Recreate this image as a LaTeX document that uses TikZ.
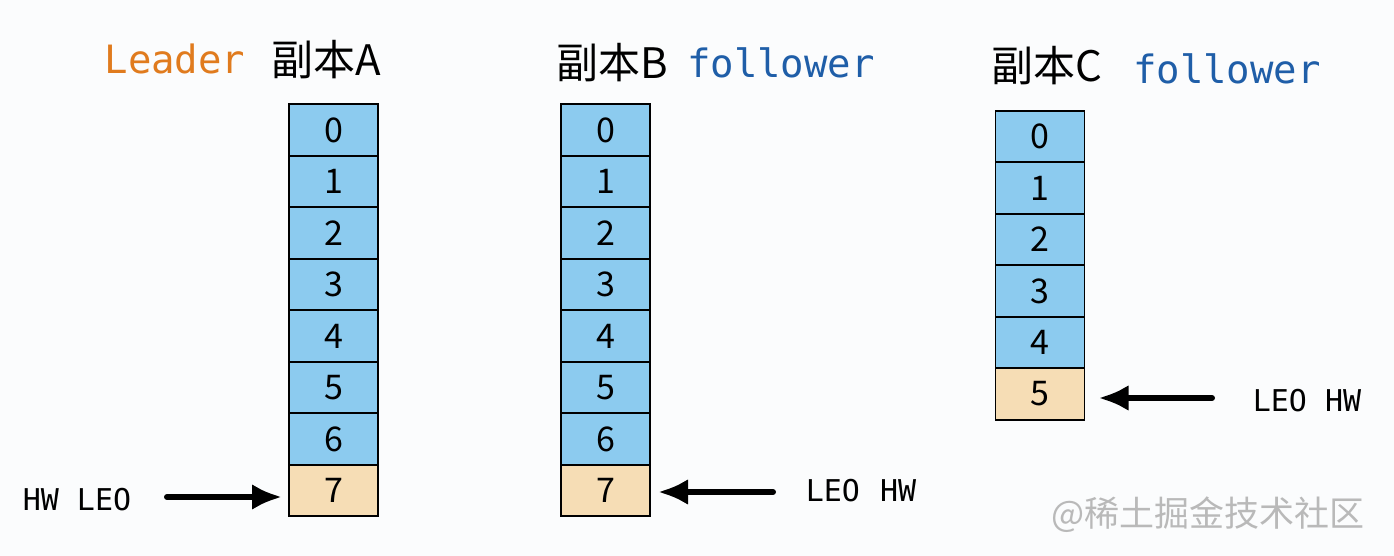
\documentclass[tikz,border=0pt]{standalone}
\usepackage{fontspec}
\setmainfont{Noto Sans CJK SC}
\newfontfamily\monofont{DejaVu Sans Mono}
\usetikzlibrary{positioning,arrows.meta}

\definecolor{cellblue}{HTML}{8CCBEF}
\definecolor{celltan}{HTML}{F6DDB5}
\definecolor{leaderorange}{HTML}{E07B1E}
\definecolor{followerblue}{HTML}{1F5EA8}
\definecolor{pagebg}{HTML}{FBFCFD}

\begin{document}
\begin{tikzpicture}
  [x=0.5pt,y=-0.5pt,
   every node/.style={inner sep=0pt,outer sep=0pt},
   cell/.style={draw=black,line width=0.8pt,fill=cellblue,
     minimum width=44.5pt,minimum height=25.75pt,
     font=\fontsize{17}{17}\selectfont},
   endcell/.style={cell,fill=celltan},
   title/.style={anchor=base,font=\fontsize{21}{21}\selectfont},
   role/.style={anchor=base,font=\monofont\fontsize{19.5}{19.5}\selectfont},
   tag/.style={font=\monofont\fontsize{15}{15}\selectfont},
   ptr/.style={-{Latex[length=15pt,width=13pt]},line width=3pt,line cap=round}]

  \fill[pagebg] (0,0) rectangle (1394,556);
  \useasboundingbox (0,0) rectangle (1394,556);

  % titles
  \node[role,text=leaderorange] (aRole) at (175,74) {Leader};
  \node[title] (aTitle) at (326,76) {副本A};
  \node[title] (bTitle) at (612,79) {副本B};
  \node[role,text=followerblue] (bRole) at (781,78) {follower};
  \node[title] (cTitle) at (1047,82) {副本C};
  \node[role,text=followerblue] (cRole) at (1227,84) {follower};

  % replica A
  \node[cell] (a0) at (333.5,130) {0};
  \node[cell] (a1) at (333.5,181.5) {1};
  \node[cell] (a2) at (333.5,233) {2};
  \node[cell] (a3) at (333.5,284.5) {3};
  \node[cell] (a4) at (333.5,336) {4};
  \node[cell] (a5) at (333.5,387.5) {5};
  \node[cell] (a6) at (333.5,439) {6};
  \node[endcell] (a7) at (333.5,490.5) {7};

  % replica B
  \node[cell] (b0) at (605.5,130) {0};
  \node[cell] (b1) at (605.5,181.5) {1};
  \node[cell] (b2) at (605.5,233) {2};
  \node[cell] (b3) at (605.5,284.5) {3};
  \node[cell] (b4) at (605.5,336) {4};
  \node[cell] (b5) at (605.5,387.5) {5};
  \node[cell] (b6) at (605.5,439) {6};
  \node[endcell] (b7) at (605.5,490.5) {7};

  % replica C
  \node[cell] (c0) at (1040,136.5) {0};
  \node[cell] (c1) at (1040,188) {1};
  \node[cell] (c2) at (1040,239.5) {2};
  \node[cell] (c3) at (1040,291) {3};
  \node[cell] (c4) at (1040,342.5) {4};
  \node[endcell] (c5) at (1040,394) {5};

  % offsets
  \node[tag] (aTag) at (77,500) {HW LEO};
  \node[tag] (bTag) at (861,491) {LEO\hspace{10pt}HW};
  \node[tag] (cTag) at (1307,401) {LEO HW};

  \coordinate (aTail) at (167,497);
  \coordinate (bTail) at (773,492);
  \coordinate (cTail) at (1212,398);

  \draw[ptr,shorten >=3.5pt] (aTail) -- (a7.west |- aTail);
  \draw[ptr,shorten >=4pt] (bTail) -- (b7.east |- bTail);
  \draw[ptr,shorten >=7pt] (cTail) -- (c5.east |- cTail);

  \node[text=gray!55,font=\fontsize{17.5}{17.5}\selectfont] (mark) at (1208,515) {@稀土掘金技术社区};
\end{tikzpicture}
\end{document}
